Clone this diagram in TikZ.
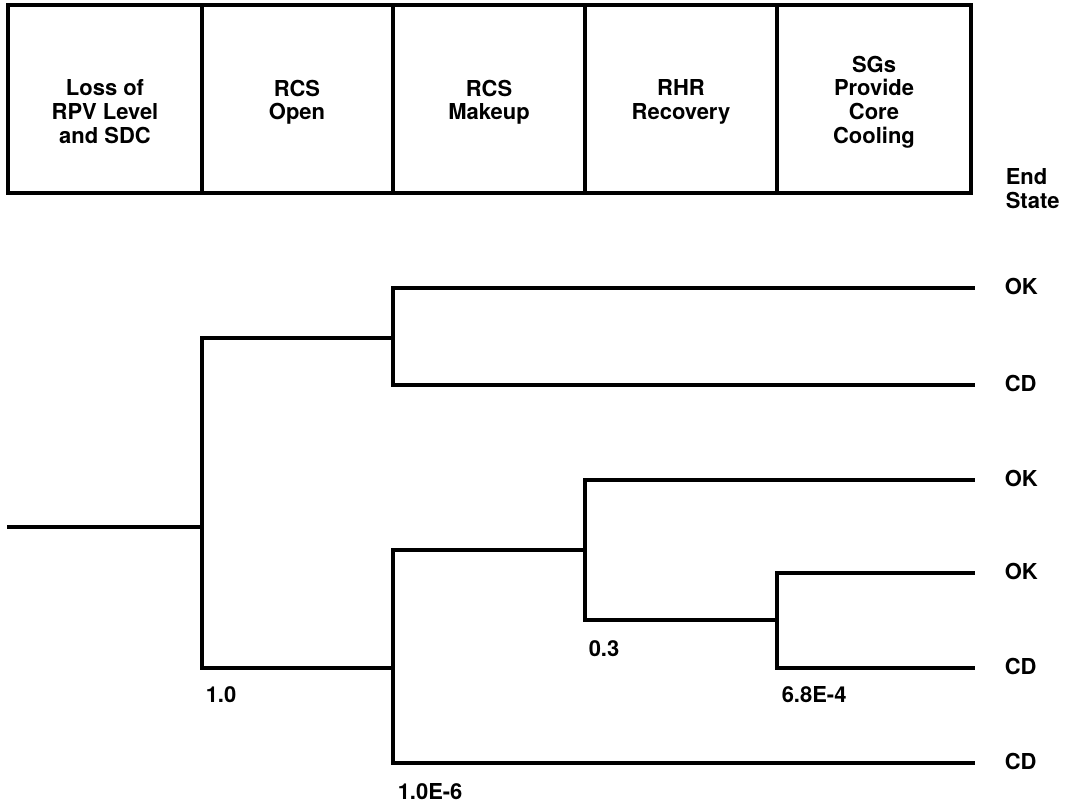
\documentclass[tikz,border=0pt]{standalone}
\usepackage{fontspec}
\setmainfont{TeX Gyre Heros}
\begin{document}
\begin{tikzpicture}[x=0.02cm,y=-0.02cm,line width=2pt,
  font=\fontsize{12.5}{13.6}\selectfont\bfseries,
  head/.style={align=center,anchor=north,inner sep=0pt},
  endst/.style={anchor=west,inner sep=0pt},
  prob/.style={anchor=north west,inner sep=0pt}]
  \useasboundingbox (0,0) rectangle (1086,803);
  \draw (8,5) rectangle (971,193);
  \foreach \x in {202,393,585,777} \draw (\x,5) -- (\x,193);
  \node[head] (loss) at (105,78) {Loss of\\RPV Level\\and SDC};
  \node[head] (open) at (297,78) {RCS\\Open};
  \node[head] (mkup) at (489,78) {RCS\\Makeup};
  \node[head] (rhr) at (681,78) {RHR\\Recovery};
  \node[head] (sgs) at (874,54) {SGs\\Provide\\Core\\Cooling};
  \node[head,align=left,anchor=north west] (endh) at (1004,167) {End\\State};
  \coordinate (start) at (7,527);
  \coordinate (a) at (202,527);
  \coordinate (b) at (393,338);
  \coordinate (c) at (393,668);
  \coordinate (d) at (585,550);
  \coordinate (f) at (777,620);
  \coordinate (e1) at (975,288);
  \coordinate (e2) at (975,385);
  \coordinate (e3) at (975,480);
  \coordinate (e4) at (975,573);
  \coordinate (e5) at (975,668);
  \coordinate (e6) at (975,763);
  \draw (start) -- (a);
  \draw (a) |- (b);
  \draw (a) |- (c);
  \draw (b) |- (e1);
  \draw (b) |- (e2);
  \draw (c) |- (d);
  \draw (c) |- (e6);
  \draw (d) |- (e3);
  \draw (d) |- (f);
  \draw (f) |- (e4);
  \draw (f) |- (e5);
  \node[endst] (s1) at (1003,286) {OK};
  \node[endst] (s2) at (1003,383) {CD};
  \node[endst] (s3) at (1003,478) {OK};
  \node[endst] (s4) at (1003,571) {OK};
  \node[endst] (s5) at (1003,666) {CD};
  \node[endst] (s6) at (1003,761) {CD};
  \node[prob] (p1) at (204,685) {1.0};
  \node[prob] (p2) at (396,782) {1.0E-6};
  \node[prob] (p3) at (587,639) {0.3};
  \node[prob] (p4) at (780,685) {6.8E-4};
\end{tikzpicture}
\end{document}
